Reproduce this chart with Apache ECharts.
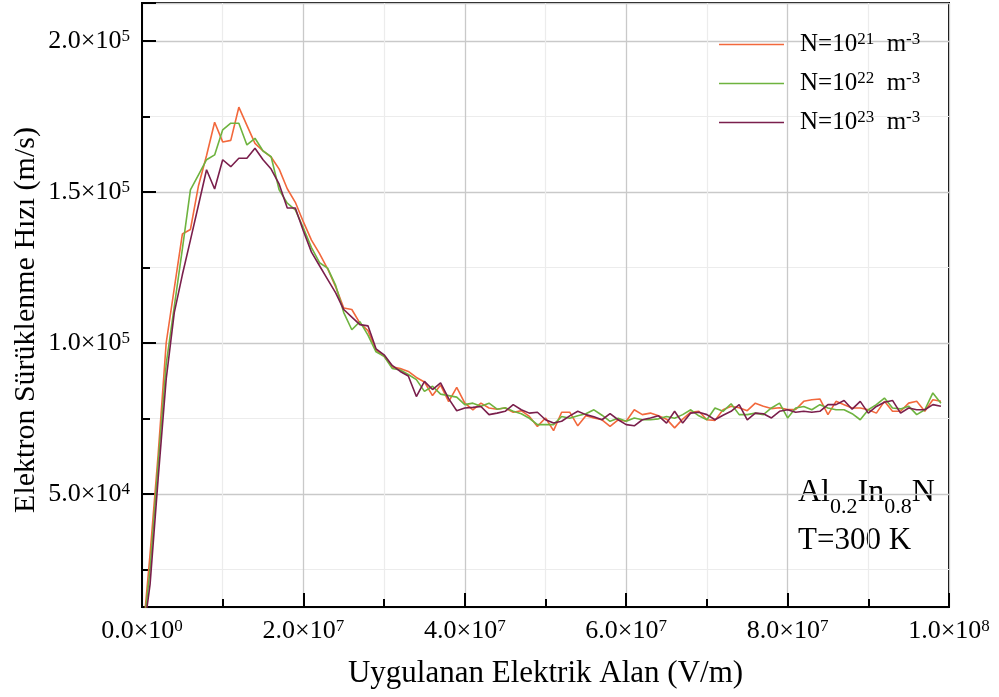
<!DOCTYPE html>
<html>
<head>
<meta charset="utf-8">
<title>Electron drift velocity – Al0.2In0.8N</title>
<script src="https://cdn.jsdelivr.net/npm/echarts@6/dist/echarts.min.js"></script>
<style>
  html, body { margin: 0; padding: 0; background: #ffffff; }
  #chart { width: 999px; height: 697px; }
</style>
</head>
<body>
<div id="chart"></div>
<script>
// Applied electric field (V/m)
const fieldVm = [
  0, 1e6, 2e6, 3e6, 4e6, 5e6, 6e6, 7e6, 8e6, 9e6,
  10e6, 11e6, 12e6, 13e6, 14e6, 15e6, 16e6, 17e6, 18e6, 19e6,
  20e6, 21e6, 22e6, 23e6, 24e6, 25e6, 26e6, 27e6, 28e6, 29e6,
  30e6, 31e6, 32e6, 33e6, 34e6, 35e6, 36e6, 37e6, 38e6, 39e6,
  40e6, 41e6, 42e6, 43e6, 44e6, 45e6, 46e6, 47e6, 48e6, 49e6,
  50e6, 51e6, 52e6, 53e6, 54e6, 55e6, 56e6, 57e6, 58e6, 59e6,
  60e6, 61e6, 62e6, 63e6, 64e6, 65e6, 66e6, 67e6, 68e6, 69e6,
  70e6, 71e6, 72e6, 73e6, 74e6, 75e6, 76e6, 77e6, 78e6, 79e6,
  80e6, 81e6, 82e6, 83e6, 84e6, 85e6, 86e6, 87e6, 88e6, 89e6,
  90e6, 91e6, 92e6, 93e6, 94e6, 95e6, 96e6, 97e6, 98e6, 99e6
];

// Electron drift velocity (m/s), N = 10^21 m^-3
const velN21 = [
  0, 30000, 63000, 100000, 118000, 136000, 137500, 152000, 162000, 173000,
  166500, 167000, 178000, 172000, 166000, 163500, 161500, 157500, 151000, 146500,
  140000, 134000, 129500, 124500, 118500, 111500, 111000, 106500, 104000, 97500,
  95500, 92000, 91500, 90500, 88500, 87000, 82500, 86000, 80500, 85200,
  80000, 77800, 80000, 78400, 78000, 78400, 77000, 77500, 75600, 72300,
  75100, 70900, 77000, 77000, 72500, 75800, 75100, 74500, 72300, 74500,
  74000, 77800, 76200, 76700, 75800, 74700, 71800, 74700, 77000, 77300,
  74500, 74300, 77800, 79000, 78500, 77500, 80000, 79000, 78200, 78500,
  77900, 77900, 80600, 81100, 81400, 76200, 80600, 79500, 78400, 78400,
  77800, 76700, 80600, 77300, 77300, 80000, 80600, 77300, 81100, 80600
];

// Electron drift velocity (m/s), N = 10^22 m^-3
const velN22 = [
  0, 25000, 60000, 93000, 112000, 131000, 150600, 155600, 160600, 162200,
  170500, 172700, 172700, 165500, 167700, 163500, 161600, 150600, 146200, 144000,
  138000, 131500, 126500, 124700, 119000, 110000, 104300, 107000, 102500, 97000,
  95500, 91500, 91000, 89500, 87800, 83900, 85600, 83000, 82500, 82000,
  79500, 80000, 79000, 80000, 78000, 78500, 77300, 76500, 75000, 72900,
  72900, 72900, 75600, 75000, 75800, 76500, 77800, 76000, 74000, 75000,
  74000, 75100, 74500, 74500, 74800, 75600, 75000, 76200, 77800, 75800,
  74500, 78400, 77300, 79800, 76200, 76200, 76700, 76200, 78400, 80000,
  75100, 78400, 78900, 77800, 79500, 78400, 77800, 77800, 76500, 74500,
  77800, 79500, 81700, 78400, 78100, 79000, 76200, 77800, 83400, 80000
];

// Electron drift velocity (m/s), N = 10^23 m^-3
const velN23 = [
  0, 20000, 55000, 88000, 110000, 122500, 134000, 145600, 157300, 150900,
  160600, 158300, 161100, 161100, 164400, 160600, 157500, 152500, 144600, 144600,
  137000, 130000, 125500, 121000, 116500, 111000, 108500, 106000, 105600, 98000,
  96000, 92500, 90500, 89000, 82200, 87200, 84500, 86700, 81500, 77500,
  78400, 78600, 78900, 76200, 76700, 77300, 79500, 77800, 76700, 77000,
  74500, 73400, 74000, 75800, 77300, 76200, 75500, 74500, 76500, 74500,
  72900, 72500, 74500, 75100, 75800, 73400, 77300, 73400, 76700, 77000,
  76200, 74500, 76000, 77300, 79500, 74500, 76700, 76500, 75100, 77300,
  77800, 77000, 77300, 77000, 77300, 79500, 79500, 80900, 78000, 80600,
  76700, 78900, 80300, 80900, 76700, 78400, 77800, 77800, 79500, 79000
];

// Legend entries: doping exponent for each curve
const dopingExp = ['21', '22', '23'];
const seriesNames = ['N=10^21 m^-3', 'N=10^22 m^-3', 'N=10^23 m^-3'];
const seriesColors = ['#F2683C', '#6EB33F', '#7A1F4C'];

// Axis tick values
const xTicks = [0, 2e7, 4e7, 6e7, 8e7, 1e8];
const yTicks = [5e4, 1e5, 1.5e5, 2e5];

const serif = '"Liberation Serif", "Times New Roman", serif';

// "a.b×10^n" as rich text with a raised exponent
function sciLabel(v) {
  let exp = 0, mant = 0;
  if (v !== 0) {
    exp = Math.floor(Math.log10(Math.abs(v)) + 1e-9);
    mant = v / Math.pow(10, exp);
  }
  return '{m|' + mant.toFixed(1) + '×10}{e|' + exp + '}';
}

const supRich = {
  m: { fontFamily: serif, fontSize: 26, color: '#000' },
  e: { fontFamily: serif, fontSize: 17, color: '#000', verticalAlign: 'top' }
};

const chart = echarts.init(document.getElementById('chart'), null, { renderer: 'canvas' });

const series = [velN21, velN22, velN23].map((vals, k) => ({
  name: seriesNames[k],
  type: 'line',
  symbol: 'none',
  smooth: false,
  clip: true,
  data: fieldVm.map((e, i) => [e, vals[i]]),
  lineStyle: { color: seriesColors[k], width: 1.6 },
  itemStyle: { color: seriesColors[k] },
  emphasis: { disabled: true }
}));

chart.setOption({
  animation: false,
  backgroundColor: '#ffffff',
  grid: {
    left: 142, right: 50, top: 3, bottom: 90,
    containLabel: false, outerBoundsMode: 'none',
    show: true, borderColor: '#000', borderWidth: 2, backgroundColor: 'transparent'
  },
  legend: {
    orient: 'vertical',
    left: 714, top: 26,
    icon: 'rect',
    itemWidth: 65, itemHeight: 1.6, itemGap: 12,
    data: seriesNames,
    formatter: function (name) {
      const k = seriesNames.indexOf(name);
      return '{g| }{m|N=10}{e|' + dopingExp[k] + '}{m|  m}{e|-3}';
    },
    textStyle: {
      lineHeight: 27,
      rich: {
        g: { width: 11, fontSize: 25, lineHeight: 27 },
        m: { fontFamily: serif, fontSize: 25, color: '#000', lineHeight: 27 },
        e: { fontFamily: serif, fontSize: 17, color: '#000', verticalAlign: 'top' }
      }
    }
  },
  xAxis: {
    type: 'value',
    min: 0, max: 1e8, interval: 2e7,
    name: 'Uygulanan Elektrik Alan (V/m)',
    nameLocation: 'middle', nameGap: 51,
    nameTextStyle: { fontFamily: serif, fontSize: 31, color: '#000' },
    axisLine: { show: true, onZero: false, lineStyle: { color: '#000', width: 2 } },
    axisTick: { show: true, inside: true, length: 14, lineStyle: { color: '#000', width: 2 } },
    minorTick: { show: true, splitNumber: 2, length: 8, lineStyle: { color: '#000', width: 2 } },
    splitLine: { show: true, lineStyle: { color: '#c9c9c9', width: 1.3 } },
    minorSplitLine: { show: true, lineStyle: { color: '#ececec', width: 1.2 } },
    axisLabel: {
      margin: 11,
      formatter: function (v) { return xTicks.indexOf(v) >= 0 ? sciLabel(v) : ''; },
      rich: supRich
    }
  },
  yAxis: {
    type: 'value',
    min: 12500, max: 212500, splitNumber: 4,
    axisLine: { show: true, onZero: false, lineStyle: { color: '#000', width: 2 } },
    axisTick: { show: true, inside: true, length: 14, lineStyle: { color: '#000', width: 2 } },
    minorTick: { show: true, splitNumber: 2, length: 8, lineStyle: { color: '#000', width: 2 } },
    splitLine: { show: true, lineStyle: { color: '#c9c9c9', width: 1.3 } },
    minorSplitLine: { show: true, lineStyle: { color: '#ececec', width: 1.2 } },
    axisLabel: {
      margin: 12,
      formatter: function (v) { return yTicks.indexOf(v) >= 0 ? sciLabel(v) : ''; },
      rich: supRich
    }
  },
  graphic: [
    {
      // vertical axis title
      type: 'text', x: 26, y: 320, rotation: Math.PI / 2, silent: true,
      style: {
        text: 'Elektron Sürüklenme Hızı (m/s)',
        font: '30px ' + serif, fill: '#000',
        align: 'center', verticalAlign: 'middle'
      }
    },
    {
      type: 'text', left: 798, top: 477, silent: true,
      style: {
        text: '{b|Al}{s|0.2}{b|In}{s|0.8}{b|N}',
        rich: {
          b: { fontFamily: serif, fontSize: 32, color: '#000', verticalAlign: 'top', lineHeight: 41 },
          s: { fontFamily: serif, fontSize: 22, color: '#000', verticalAlign: 'bottom' }
        }
      }
    },
    {
      type: 'text', left: 798, top: 525, silent: true,
      style: { text: 'T=300 K', font: '31px ' + serif, fill: '#000' }
    }
  ],
  series: series
});
</script>
</body>
</html>
